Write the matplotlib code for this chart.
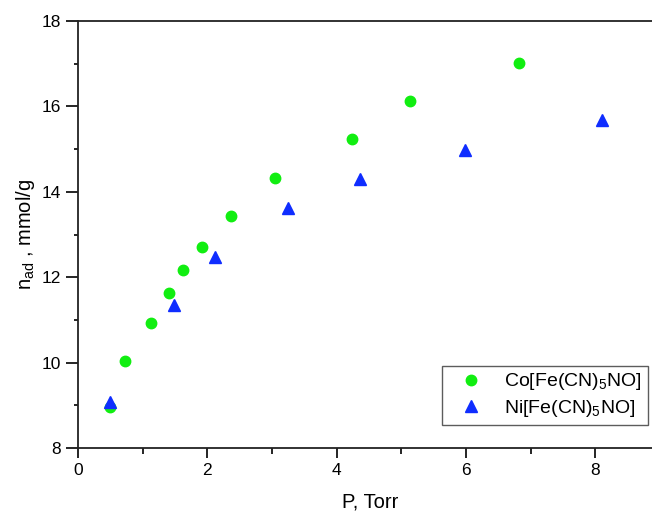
import numpy as np
import matplotlib
matplotlib.use('Agg')
import matplotlib.pyplot as plt
from matplotlib.ticker import MultipleLocator

plt.rcParams['font.family'] = ['Liberation Sans', 'DejaVu Sans']
plt.rcParams['mathtext.fontset'] = 'custom'
plt.rcParams['mathtext.rm'] = 'Liberation Sans'
plt.rcParams['mathtext.it'] = 'Liberation Sans:italic'
plt.rcParams['mathtext.bf'] = 'Liberation Sans:bold'

# Co[Fe(CN)5NO]
p_co = [0.50, 0.73, 1.13, 1.41, 1.63, 1.91, 2.37, 3.04, 4.23, 5.13, 6.82]
n_co = [8.95, 10.04, 10.93, 11.64, 12.18, 12.71, 13.43, 14.33, 15.23, 16.13, 17.02]
# Ni[Fe(CN)5NO]
p_ni = [0.50, 1.49, 2.12, 3.24, 4.36, 5.98, 8.10]
n_ni = [9.07, 11.35, 12.48, 13.62, 14.30, 14.98, 15.67]

fig = plt.figure(figsize=(6.52, 5.12), dpi=100)
ax = fig.add_axes([78/652, 1-448/512, (660-78)/652, (448-21)/512])

ax.plot(p_co, n_co, 'o', color='#11ee11', markersize=7.5, linestyle='none',
        label=r'Co[Fe(CN)$_\mathrm{5}$NO]')
ax.plot(p_ni, n_ni, '^', color='#0f2dff', markersize=8.5, linestyle='none',
        label=r'Ni[Fe(CN)$_\mathrm{5}$NO]')

ax.set_xlim(0, 9)
ax.set_ylim(8, 18)
ax.xaxis.set_major_locator(MultipleLocator(2))
ax.xaxis.set_minor_locator(MultipleLocator(1))
ax.yaxis.set_major_locator(MultipleLocator(2))
ax.yaxis.set_minor_locator(MultipleLocator(1))
ax.tick_params(which='major', direction='out', length=7, width=1.2, labelsize=12.5)
ax.tick_params(which='minor', direction='out', length=4, width=1.2)
ax.tick_params(axis='y', which='major', length=9)
ax.tick_params(axis='y', which='minor', length=3)
ax.spines['right'].set_visible(False)
for s in ['left', 'bottom', 'top']:
    ax.spines[s].set_linewidth(1.3)
    ax.spines[s].set_color('#222222')

ax.set_xlabel('P, Torr', fontsize=14.5)
ax.xaxis.set_label_coords((370-78)/(660-78), -(493-448)/(448-21))
ax.xaxis.label.set_va('top')
ax.set_ylabel(r'n$_\mathrm{ad}$ , mmol/g', fontsize=14.5)
ax.yaxis.set_label_coords(-(78-14)/(660-78), 0.5)
ax.yaxis.label.set_va('top')

leg = ax.legend(loc='lower right', bbox_to_anchor=(648/652, 1-425/512),
                bbox_transform=fig.transFigure, fontsize=14, frameon=True,
                fancybox=False, edgecolor='#333333', handletextpad=0.5,
                borderpad=0.3, labelspacing=0.3, handlelength=2.4,
                borderaxespad=0)
leg.get_frame().set_linewidth(1.0)

fig.savefig('out.png', dpi=100)
